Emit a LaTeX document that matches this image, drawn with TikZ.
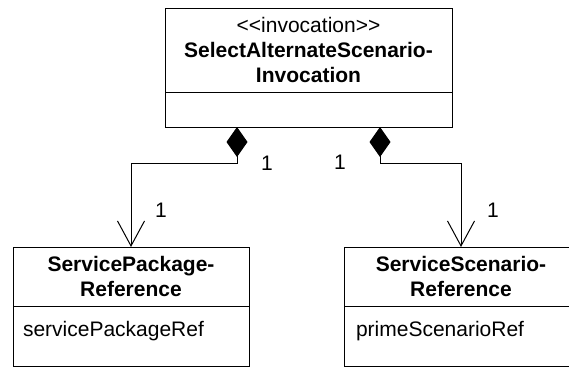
\documentclass[tikz,border=0pt]{standalone}
\usepackage{fontspec}
\setmainfont{Liberation Sans}
\usetikzlibrary{arrows.meta,positioning,calc}

\tikzset{
  classhead/.style={draw, line width=1pt, outer sep=0pt, inner sep=3pt, align=center,
    font=\bfseries\fontsize{21}{25}\selectfont},
  classattr/.style={draw, line width=1pt, outer sep=0pt, inner sep=3pt, inner xsep=10pt,
    align=left, font=\fontsize{21}{25}\selectfont},
  attrline/.style={text height=15pt, text depth=14pt},
  comp/.style={line width=1pt, {Diamond[length=30pt,width=21pt]}-{Straight Barb[length=25pt,width=27pt]}},
  mult/.style={inner sep=0pt, font=\fontsize{21}{25}\selectfont},
}

\begin{document}
\begin{tikzpicture}[x=1pt, y=-1pt]
  \useasboundingbox (0,0) rectangle (569,367);
  % Klassen
  \node[classhead, minimum width=287pt, minimum height=84pt] (inv) at (308.5,50)
    {\mdseries <\kern0pt<invocation>\kern0pt>\\SelectAlternateScenario-\\Invocation};
  \node[classattr, minimum width=287pt, minimum height=35pt, below=0pt of inv] (invattr) {};

  \node[classhead, minimum width=236pt, minimum height=59pt] (spr) at (131,276.5)
    {ServicePackage-\\Reference};
  \node[classattr, attrline, text width=216pt, minimum height=60pt, below=0pt of spr] (sprattr)
    {servicePackageRef};

  \node[classhead, minimum width=234pt, minimum height=59pt] (ssr) at (461,276.5)
    {ServiceScenario-\\Reference};
  \node[classattr, attrline, inner xsep=12pt, text width=210pt, minimum height=60pt, below=0pt of ssr] (ssrattr)
    {primeScenarioRef};

  % Kompositionen
  \coordinate (dl) at ($(invattr.south)+(-71.5,0)$);
  \coordinate (dr) at ($(invattr.south)+(71.5,0)$);
  \draw[comp] (dl) -- ++(0,36) -| (spr.north);
  \draw[comp] (dr) -- ++(0,36) -| (ssr.north);

  % Multiplizitaeten
  \node[mult] (ml1) at (267,163) {1};
  \node[mult] (ml2) at (161,210) {1};
  \node[mult] (mr1) at (340,162) {1};
  \node[mult] (mr2) at (493,210) {1};
\end{tikzpicture}
\end{document}
